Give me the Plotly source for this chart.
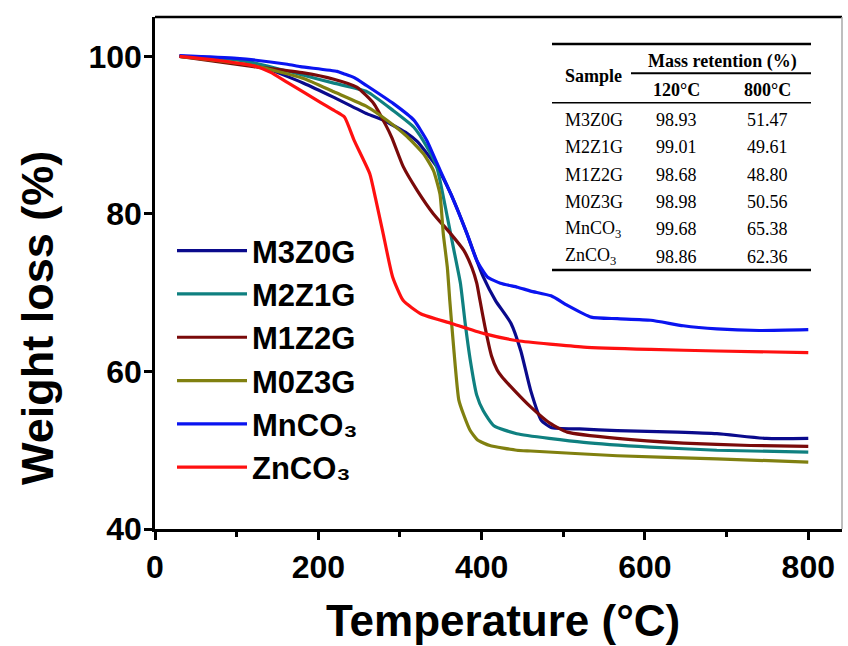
import plotly.graph_objects as go

# ---------------- data ----------------
series_names = ["M3Z0G", "M2Z1G", "M1Z2G", "M0Z3G", "MnCO₃", "ZnCO₃"]
series_colors = ["#0a0a8c", "#0f8080", "#7a0a0a", "#808010", "#0a14f0", "#ff1010"]

m3z0g_T = [30, 100, 121, 182, 219, 260, 280, 309, 321, 345, 362, 382, 394, 402, 417, 436, 448, 460, 473, 485, 520, 566, 640, 688, 749, 800]
m3z0g_W = [100, 99.6, 99.1, 96.6, 94.8, 92.7, 91.9, 90.2, 89.2, 86.0, 82.6, 77.5, 74.1, 72.0, 69.0, 66.1, 62.6, 57.6, 53.8, 52.9, 52.7, 52.5, 52.3, 52.1, 51.5, 51.5]

m2z1g_T = [30, 100, 121, 182, 219, 260, 292, 317, 333, 345, 358, 366, 374, 380, 386, 394, 402, 415, 443, 525, 606, 688, 800]
m2z1g_W = [100, 99.6, 99.2, 97.6, 96.6, 95.5, 93.1, 91.0, 88.5, 86.0, 79.6, 75.4, 71.2, 66.0, 61.5, 57.0, 55.0, 53.1, 52.1, 51.0, 50.4, 50.0, 49.75]

m1z2g_T = [30, 121, 182, 219, 247, 268, 282, 290, 304, 321, 341, 362, 378, 388, 394, 398, 404, 412, 419, 425, 440, 460, 484, 505, 566, 647, 729, 800]
m1z2g_W = [100, 98.7, 97.9, 97.1, 96.1, 94.0, 91.4, 89.7, 86.0, 83.0, 80.0, 77.5, 75.4, 73.2, 71.2, 69.0, 65.7, 62.0, 60.2, 59.3, 57.6, 55.5, 53.4, 52.3, 51.5, 50.9, 50.6, 50.5]

m0z3g_T = [30, 117, 182, 219, 260, 284, 309, 329, 341, 349, 353, 358, 361, 366, 372, 378, 386, 395, 410, 443, 460, 566, 688, 800]
m0z3g_W = [100, 98.9, 97.2, 95.5, 93.6, 91.9, 89.8, 87.6, 85.5, 82.5, 77.5, 73.2, 69.0, 62.7, 56.4, 54.5, 52.5, 51.3, 50.6, 50.0, 49.9, 49.3, 48.9, 48.5]

mnco3_T = [30, 100, 162, 178, 223, 231, 244, 259, 292, 317, 333, 345, 362, 382, 394, 407, 423, 444, 460, 485, 505, 534, 566, 607, 647, 688, 740, 800]
mnco3_W = [100.1, 99.75, 99.0, 98.7, 98.1, 97.8, 97.3, 96.3, 94.0, 91.9, 89.3, 86.5, 82.6, 77.5, 74.1, 72.0, 71.2, 70.7, 70.2, 69.6, 68.4, 66.9, 66.7, 66.5, 65.8, 65.4, 65.2, 65.3]

znco3_T = [30, 80, 121, 141, 162, 202, 220, 232, 244, 263, 270, 279, 291, 304, 326, 363, 403, 444, 525, 607, 688, 800]
znco3_W = [100, 99.45, 98.8, 98.0, 96.7, 94.2, 93.1, 92.3, 89.3, 85.1, 82.0, 77.7, 72.0, 69.0, 67.3, 66.1, 64.8, 63.9, 63.1, 62.8, 62.6, 62.4]

series_T = [m3z0g_T, m2z1g_T, m1z2g_T, m0z3g_T, mnco3_T, znco3_T]
series_W = [m3z0g_W, m2z1g_W, m1z2g_W, m0z3g_W, mnco3_W, znco3_W]

# inset table
table_samples = ["M3Z0G", "M2Z1G", "M1Z2G", "M0Z3G", "MnCO<sub>3</sub>", "ZnCO<sub>3</sub>"]
table_120 = ["98.93", "99.01", "98.68", "98.98", "99.68", "98.86"]
table_800 = ["51.47", "49.61", "48.80", "50.56", "65.38", "62.36"]

x_ticks = [0, 200, 400, 600, 800]
y_ticks = [40, 60, 80, 100]

# ---------------- figure ----------------
W_PX, H_PX = 848, 646
ML, MR, MT, MB = 155, 6, 17, 117
PW, PH = W_PX - ML - MR, H_PX - MT - MB


def px(x):
    return (x - ML) / PW


def py(y):
    return (H_PX - MB - y) / PH


fig = go.Figure()
for name, col, T, Wv in zip(series_names, series_colors, series_T, series_W):
    fig.add_trace(go.Scatter(x=T, y=Wv, mode="lines", name=name,
                             line=dict(color=col, width=3.2, shape="spline", smoothing=0.5)))

sans = "Liberation Sans, Arial, sans-serif"
serif = "Liberation Serif, Times New Roman, serif"

fig.update_layout(
    width=W_PX, height=H_PX,
    margin=dict(l=ML, r=MR, t=MT, b=MB),
    paper_bgcolor="white", plot_bgcolor="white",
    font=dict(family=sans, color="black"),
    showlegend=True,
    legend=dict(x=px(172), y=py(224), xanchor="left", yanchor="top",
                font=dict(family=sans, size=31, color="black", weight="bold"),
                bgcolor="rgba(0,0,0,0)", itemwidth=70, tracegroupgap=0),
    xaxis=dict(range=[0, PW / 0.8166], tickvals=x_ticks, ticks="outside", ticklen=8, tickwidth=2.5,
               tickcolor="black", showline=True, linecolor="black", linewidth=2.5, mirror=False,
               showgrid=False, zeroline=False,
               minor=dict(dtick=100, tick0=0, ticks="outside", ticklen=5, tickwidth=2.5, tickcolor="black"),
               tickfont=dict(family=sans, size=32, color="black", weight="bold")),
    yaxis=dict(range=[40, 105], tickvals=y_ticks, ticks="outside", ticklen=8, tickwidth=2.5,
               tickcolor="black", showline=True, linecolor="black", linewidth=2.5, mirror=False,
               showgrid=False, zeroline=False, ticklabelstandoff=-4,
               tickfont=dict(family=sans, size=32, color="black", weight="bold")),
)

# axis titles
fig.add_annotation(text="Temperature (°C)", xref="paper", yref="paper", x=px(503), y=py(620),
                   xanchor="center", yanchor="middle", showarrow=False,
                   font=dict(family=sans, size=44, color="black", weight="bold"))
fig.add_annotation(text="Weight loss (%)", xref="paper", yref="paper", x=px(37), y=py(318),
                   xanchor="center", yanchor="middle", showarrow=False, textangle=-90,
                   font=dict(family=sans, size=45, color="black", weight="bold"))

# top frame and light right frame
fig.add_shape(type="line", xref="paper", yref="paper", x0=0, x1=1, y0=1, y1=1,
              line=dict(color="black", width=2.5))
fig.add_shape(type="line", xref="paper", yref="paper", x0=1, x1=1, y0=0, y1=1,
              line=dict(color="#a8a8a8", width=1.5))

# table rules
tl, tr = px(552), px(811)
fig.add_shape(type="line", xref="paper", yref="paper", x0=tl, x1=tr, y0=py(44), y1=py(44),
              line=dict(color="black", width=2.5))
fig.add_shape(type="line", xref="paper", yref="paper", x0=px(631), x1=tr, y0=py(73.3), y1=py(73.3),
              line=dict(color="black", width=2))
fig.add_shape(type="line", xref="paper", yref="paper", x0=tl, x1=tr, y0=py(102.7), y1=py(102.7),
              line=dict(color="black", width=1.5))
fig.add_shape(type="line", xref="paper", yref="paper", x0=tl, x1=tr, y0=py(270), y1=py(270),
              line=dict(color="black", width=2.5))


def ann(text, x, y, anchor="center", bold=False):
    fig.add_annotation(text=text, xref="paper", yref="paper", x=px(x), y=py(y),
                       xanchor=anchor, yanchor="middle", showarrow=False,
                       font=dict(family=serif, size=18, color="black",
                                 weight="bold" if bold else "normal"))


ann("Mass retention (%)", 722, 61, bold=True)
ann("Sample", 563, 76, anchor="left", bold=True)
ann("120°C", 676, 90, bold=True)
ann("800°C", 767, 90, bold=True)
row_y0, row_dy = 120, 27.3
for i, (s, a, b) in enumerate(zip(table_samples, table_120, table_800)):
    yy = row_y0 + i * row_dy
    ann(s, 563, yy, anchor="left")
    ann(a, 676, yy)
    ann(b, 767.5, yy)

fig.write_html("out.html")
